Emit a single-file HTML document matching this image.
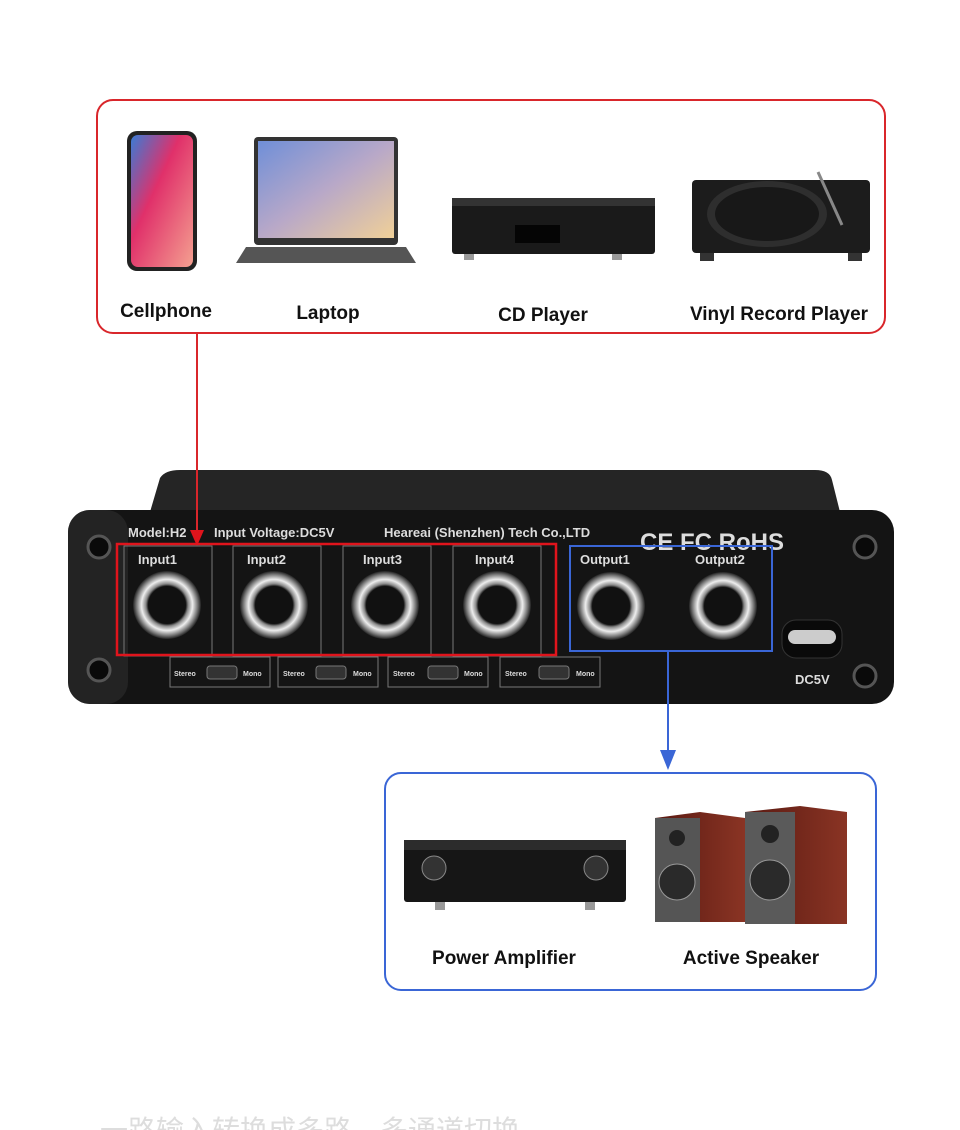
<!DOCTYPE html>
<html><head><meta charset="utf-8"><style>
html,body{margin:0;padding:0;background:#fff;}
svg{display:block;}
text{font-family:"Liberation Sans","DejaVu Sans",sans-serif;}
</style></head><body>
<svg width="960" height="1130" viewBox="0 0 960 1130" xmlns="http://www.w3.org/2000/svg">
<defs>
<linearGradient id="ph" x1="0" y1="0" x2="1" y2="1"><stop offset="0" stop-color="#3a7bd5"/><stop offset="0.4" stop-color="#e0306a"/><stop offset="1" stop-color="#f4a090"/></linearGradient>
<linearGradient id="lap" x1="0" y1="0" x2="1" y2="1"><stop offset="0" stop-color="#6f8fd8"/><stop offset="0.5" stop-color="#b8a8c8"/><stop offset="1" stop-color="#f0d098"/></linearGradient>
<linearGradient id="wood" x1="0" y1="0" x2="1" y2="0"><stop offset="0" stop-color="#5a1a12"/><stop offset="1" stop-color="#8a3424"/></linearGradient>
<radialGradient id="jack"><stop offset="0.55" stop-color="#111"/><stop offset="0.62" stop-color="#888"/><stop offset="0.75" stop-color="#eee"/><stop offset="0.9" stop-color="#777"/><stop offset="1" stop-color="#222"/></radialGradient>
</defs>

<rect x="97" y="100" width="788" height="233" rx="16" fill="none" stroke="#d9262b" stroke-width="2"/>
<rect x="127" y="131" width="70" height="140" rx="10" fill="#222"/>
<rect x="131" y="135" width="62" height="132" rx="7" fill="url(#ph)"/>
<rect x="254" y="137" width="144" height="108" rx="4" fill="#333"/>
<rect x="258" y="141" width="136" height="97" fill="url(#lap)"/>
<path d="M246,247 L406,247 L416,263 L236,263 Z" fill="#555"/>
<rect x="452" y="198" width="203" height="56" rx="3" fill="#1a1a1a"/>
<rect x="452" y="198" width="203" height="8" fill="#333"/>
<rect x="515" y="225" width="45" height="18" fill="#050505"/>
<rect x="464" y="254" width="10" height="6" fill="#999"/><rect x="612" y="254" width="10" height="6" fill="#999"/>
<rect x="692" y="180" width="178" height="73" rx="4" fill="#1c1c1c"/>
<ellipse cx="767" cy="214" rx="60" ry="33" fill="#2e2e2e"/>
<ellipse cx="767" cy="214" rx="52" ry="27" fill="#181818"/>
<line x1="818" y1="172" x2="842" y2="225" stroke="#888" stroke-width="3"/>
<rect x="700" y="253" width="14" height="8" fill="#333"/><rect x="848" y="253" width="14" height="8" fill="#333"/>

<g font-weight="bold" font-size="19" fill="#111" text-anchor="middle">
<text x="166" y="317">Cellphone</text>
<text x="328" y="319">Laptop</text>
<text x="543" y="321">CD Player</text>
<text x="779" y="320">Vinyl Record Player</text>
</g>

<path d="M160,478 Q165,470 180,470 L815,470 Q830,470 832,480 L840,512 L150,512 Z" fill="#252525"/>
<rect x="68" y="510" width="826" height="194" rx="22" fill="#141414"/>
<rect x="68" y="510" width="60" height="194" rx="22" fill="#2a2a2a" opacity="0.7"/>
<g fill="#0a0a0a" stroke="#555" stroke-width="3">
<circle cx="99" cy="547" r="11"/><circle cx="99" cy="670" r="11"/><circle cx="865" cy="547" r="11"/><circle cx="865" cy="676" r="11"/>
</g>
<g fill="#ddd" font-weight="bold" font-size="13">
<text x="128" y="537">Model:H2</text>
<text x="214" y="537">Input Voltage:DC5V</text>
<text x="384" y="537">Heareai (Shenzhen) Tech Co.,LTD</text>
<text x="640" y="550" font-size="24">CE FC RoHS</text>
<text x="138" y="564">Input1</text><text x="247" y="564">Input2</text><text x="363" y="564">Input3</text><text x="475" y="564">Input4</text>
<text x="580" y="564">Output1</text><text x="695" y="564">Output2</text>
<text x="795" y="684">DC5V</text>
</g>
<g fill="none" stroke="#777" stroke-width="1">
<rect x="124" y="546" width="88" height="110"/><rect x="233" y="546" width="88" height="110"/><rect x="343" y="546" width="88" height="110"/><rect x="453" y="546" width="88" height="110"/>
<rect x="170" y="657" width="100" height="30"/><rect x="278" y="657" width="100" height="30"/><rect x="388" y="657" width="100" height="30"/><rect x="500" y="657" width="100" height="30"/>
</g>
<g fill="#ddd" font-size="7" font-weight="bold">
<text x="174" y="676">Stereo</text><text x="243" y="676">Mono</text>
<text x="283" y="676">Stereo</text><text x="353" y="676">Mono</text>
<text x="393" y="676">Stereo</text><text x="464" y="676">Mono</text>
<text x="505" y="676">Stereo</text><text x="576" y="676">Mono</text>
</g>
<g fill="#333" stroke="#777"><rect x="207" y="666" width="30" height="13" rx="3"/><rect x="316" y="666" width="30" height="13" rx="3"/><rect x="428" y="666" width="30" height="13" rx="3"/><rect x="539" y="666" width="30" height="13" rx="3"/></g>
<g fill="url(#jack)">
<circle cx="167" cy="605" r="34"/><circle cx="274" cy="605" r="34"/><circle cx="385" cy="605" r="34"/><circle cx="497" cy="605" r="34"/><circle cx="611" cy="606" r="34"/><circle cx="723" cy="606" r="34"/>
</g>
<rect x="782" y="620" width="60" height="38" rx="14" fill="#0a0a0a" stroke="#333"/>
<rect x="788" y="630" width="48" height="14" rx="7" fill="#ccc"/>

<rect x="117" y="544" width="439" height="111" fill="none" stroke="#e0141c" stroke-width="2.5"/>
<rect x="570" y="546" width="202" height="105" fill="none" stroke="#3a66d6" stroke-width="2"/>

<line x1="197" y1="334" x2="197" y2="532" stroke="#d9262b" stroke-width="2"/>
<path d="M190,530 L204,530 L197,546 Z" fill="#e0141c"/>
<line x1="668" y1="652" x2="668" y2="752" stroke="#3a66d6" stroke-width="2"/>
<path d="M660,750 L676,750 L668,770 Z" fill="#3a66d6"/>

<rect x="385" y="773" width="491" height="217" rx="16" fill="none" stroke="#3a66d6" stroke-width="2"/>
<rect x="404" y="840" width="222" height="62" rx="3" fill="#161616"/>
<rect x="404" y="840" width="222" height="10" fill="#2c2c2c"/>
<circle cx="434" cy="868" r="12" fill="#333" stroke="#888"/><circle cx="596" cy="868" r="12" fill="#333" stroke="#888"/>
<rect x="435" y="902" width="10" height="8" fill="#999"/><rect x="585" y="902" width="10" height="8" fill="#999"/>
<path d="M655,818 L700,812 L745,818 L745,922 L655,922 Z" fill="url(#wood)"/>
<rect x="655" y="818" width="45" height="104" fill="#555"/>
<circle cx="677" cy="838" r="8" fill="#222"/><circle cx="677" cy="882" r="18" fill="#2a2a2a" stroke="#999"/>
<path d="M745,812 L800,806 L847,812 L847,924 L745,924 Z" fill="url(#wood)"/>
<rect x="745" y="812" width="50" height="112" fill="#5a5a5a"/>
<circle cx="770" cy="834" r="9" fill="#222"/><circle cx="770" cy="880" r="20" fill="#2a2a2a" stroke="#999"/>

<g font-weight="bold" font-size="19" fill="#111" text-anchor="middle">
<text x="504" y="964">Power Amplifier</text>
<text x="751" y="964">Active Speaker</text>
</g>
<text x="100" y="1140" font-size="28" fill="#ddd" font-family="'Noto Sans CJK SC',sans-serif">一路输入转换成多路，多通道切换</text>
</svg>
</body></html>
